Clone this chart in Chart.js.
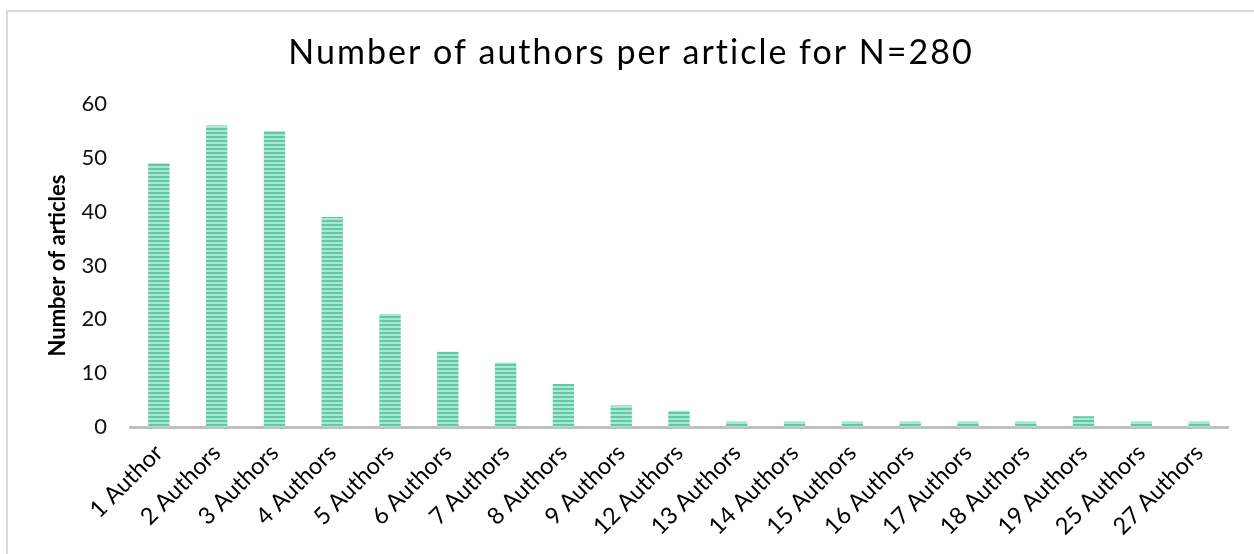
<!DOCTYPE html>
<html>
<head>
<meta charset="utf-8">
<script src="https://cdn.jsdelivr.net/npm/chart.js@4.4.1/dist/chart.umd.min.js"></script>
<style>
  html, body { margin: 0; padding: 0; background: #fff; }
  #wrap { position: relative; width: 1254px; height: 554px; }
  #frame { position: absolute; left: 6px; top: 10px; right: 0; bottom: 0;
           border-left: 2px solid #d9d9d9; border-top: 2px solid #d9d9d9; pointer-events: none; }
  canvas { position: absolute; left: 0; top: 0; }
</style>
</head>
<body>
<div id="wrap">
  <canvas id="authorsChart" width="1254" height="554"></canvas>
  <div id="frame"></div>
</div>
<script>
// Articles grouped by number of authors
const chartTitle = 'Number of authors per article for N=280';
const categories = ['1 Author', '2 Authors', '3 Authors', '4 Authors', '5 Authors', '6 Authors',
  '7 Authors', '8 Authors', '9 Authors', '12 Authors', '13 Authors', '14 Authors', '15 Authors',
  '16 Authors', '17 Authors', '18 Authors', '19 Authors', '25 Authors', '27 Authors'];
const articleCounts = [49, 56, 55, 39, 21, 14, 12, 8, 4, 3, 1, 1, 1, 1, 1, 1, 2, 1, 1];
const yTicks = [0, 10, 20, 30, 40, 50, 60];

document.addEventListener('DOMContentLoaded', function() {
    // horizontal stripe fill for the bars
    function stripes() {
        const c = document.createElement('canvas');
        c.width = 4; c.height = 4;
        const g = c.getContext('2d');
        g.fillStyle = '#ade6d1';
        g.fillRect(0, 0, 4, 4);
        g.fillStyle = '#5ccaa7';
        g.fillRect(0, 0, 4, 2);
        return g.createPattern(c, 'repeat');
    }

    // spaced-out title drawn above the plot
    const spacedTitle = {
        id: 'spacedTitle',
        afterDraw(chart) {
            const ctx = chart.ctx;
            ctx.save();
            ctx.font = '34px Lato';
            ctx.letterSpacing = '2px';
            ctx.fillStyle = '#000';
            ctx.textAlign = 'center';
            ctx.textBaseline = 'middle';
            ctx.fillText(chartTitle, 631, 53);
            ctx.restore();
        }
    };

    const ctx = document.getElementById('authorsChart').getContext('2d');
    new Chart(ctx, {
        type: 'bar',
        data: {
            labels: categories,
            datasets: [{
                label: 'Number of articles',
                data: articleCounts,
                backgroundColor: stripes(),
                borderWidth: 0,
                barPercentage: 0.37,
                categoryPercentage: 1
            }]
        },
        options: {
            responsive: false,
            animation: false,
            layout: { padding: { top: 104, right: 26, left: 0, bottom: 0 } },
            plugins: {
                legend: { display: false },
                tooltip: { enabled: false }
            },
            scales: {
                x: {
                    grid: { display: false },
                    border: { display: true, color: '#bfbfbf', width: 3 },
                    ticks: {
                        color: '#000',
                        font: { family: 'Lato', size: 23.5 },
                        minRotation: 45,
                        maxRotation: 45,
                        autoSkip: false,
                        padding: 4
                    },
                    afterFit: function(scale) { scale.height = 127; }
                },
                y: {
                    min: 0,
                    max: 60,
                    afterBuildTicks: function(scale) {
                        scale.ticks = yTicks.map(v => ({ value: v }));
                    },
                    grid: { display: false },
                    border: { display: false },
                    ticks: {
                        color: '#111',
                        font: { family: 'Lato', size: 22 },
                        padding: 15
                    },
                    title: {
                        display: true,
                        text: 'Number of articles',
                        color: '#000',
                        font: { family: 'Lato', size: 22, weight: 'bold' },
                        padding: { top: 45, bottom: 0 }
                    },
                    afterFit: function(scale) { scale.width = 130; }
                }
            }
        },
        plugins: [spacedTitle]
    });
});
</script>
</body>
</html>
